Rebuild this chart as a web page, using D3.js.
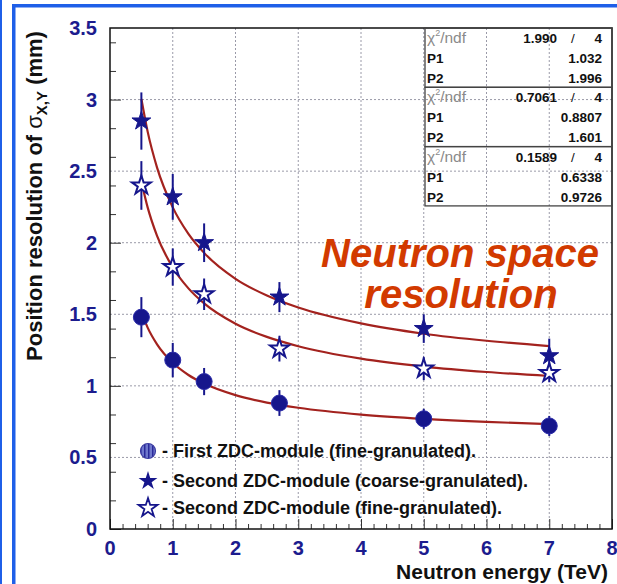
<!DOCTYPE html>
<html><head><meta charset="utf-8">
<script src="https://cdn.jsdelivr.net/npm/d3@7"></script>
<style>body{margin:0;background:#fff}svg{display:block}text{font-family:"Liberation Sans",Arial,Helvetica,sans-serif}</style>
</head><body><svg id="c" width="617" height="584"></svg>
<script>
// ---- data ----
const energies = [0.5, 1, 1.5, 2.7, 5, 7];
const firstFine = [1.48, 1.18, 1.03, 0.88, 0.77, 0.72];
const firstFineErr = [0.14, 0.12, 0.095, 0.09, 0.07, 0.07];
const secondCoarse = [2.85, 2.32, 2.00, 1.62, 1.40, 1.21];
const secondCoarseErr = [0.20, 0.16, 0.135, 0.105, 0.10, 0.12];
const secondFine = [2.40, 1.83, 1.64, 1.26, 1.12, 1.09];
const secondFineErr = [0.17, 0.13, 0.11, 0.09, 0.08, 0.065];
// fit curves
const fitX = [0.5, 0.6, 0.75, 1, 1.25, 1.5, 2, 2.5, 3, 4, 5, 6, 7];
const fitCoarse = [3.005, 2.776, 2.525, 2.247, 2.062, 1.929, 1.748, 1.631, 1.547, 1.436, 1.364, 1.315, 1.278];
const fitSecondFine = [2.429, 2.247, 2.048, 1.827, 1.681, 1.576, 1.434, 1.342, 1.277, 1.190, 1.135, 1.097, 1.069];
const fitFirstFine = [1.515, 1.407, 1.290, 1.161, 1.076, 1.016, 0.935, 0.883, 0.847, 0.799, 0.769, 0.748, 0.733];
const xTicks = [0, 1, 2, 3, 4, 5, 6, 7, 8];
const yTicks = [0, 0.5, 1, 1.5, 2, 2.5, 3, 3.5];
const yTickLabels = ["0", "0.5", "1", "1.5", "2", "2.5", "3", "3.5"];
const statChi2 = ["1.990", "0.7061", "0.1589"];
const statNdf = ["4", "4", "4"];
const statP1 = ["1.032", "0.8807", "0.6338"];
const statP2 = ["1.996", "1.601", "0.9726"];
const legendLabels = ["- First ZDC-module (fine-granulated).", "- Second ZDC-module (coarse-granulated).", "- Second ZDC-module (fine-granulated)."];

// ---- layout ----
const svg = d3.select("#c");
const L = 110, R = 612, T = 28, B = 529;
const x = d3.scaleLinear().domain([0, 8]).range([L, R]);
const y = d3.scaleLinear().domain([0, 3.5]).range([B, T]);
const navy = "#16168c", labBlue = "#1c1c8e", frameBlue = "#1f5fe8", fitRed = "#a3221e";

// page border (slide frame)
svg.append("rect").attr("x", 0).attr("y", 0).attr("width", 2).attr("height", 584).attr("fill", frameBlue);
svg.append("rect").attr("x", 12).attr("y", 4).attr("width", 605).attr("height", 3.5).attr("fill", frameBlue);
svg.append("rect").attr("x", 12).attr("y", 4).attr("width", 3.5).attr("height", 580).attr("fill", frameBlue);

// grid
const g = svg.append("g");
g.selectAll(".gx").data(xTicks.slice(1, -1)).join("line")
  .attr("x1", d => x(d)).attr("x2", d => x(d)).attr("y1", T).attr("y2", B)
  .attr("stroke", "#9a9aa8").attr("stroke-width", 1).attr("stroke-dasharray", "2,2");
g.selectAll(".gy").data(yTicks.slice(1, -1)).join("line")
  .attr("y1", d => y(d)).attr("y2", d => y(d)).attr("x1", L).attr("x2", R)
  .attr("stroke", "#9a9aa8").attr("stroke-width", 1).attr("stroke-dasharray", "2,2");

// axes (ticks inward)
const xAxis = d3.axisTop(x).ticks(32).tickSize(6).tickFormat("");
const xa = svg.append("g").attr("transform", `translate(0,${B})`).call(xAxis);
xa.selectAll(".tick line").attr("stroke", "#333").attr("y2", d => Number.isInteger(d) ? -10 : -5);
xa.select(".domain").remove();
const yAxis = d3.axisRight(y).ticks(14).tickSize(6).tickFormat("");
const ya = svg.append("g").attr("transform", `translate(${L},0)`).call(yAxis);
ya.selectAll(".tick line").attr("stroke", "#333").attr("x2", d => (Math.abs(d * 2 - Math.round(d * 2)) < 1e-6) ? 11 : 6);
ya.select(".domain").remove();

// tick labels
svg.selectAll(".xl").data(xTicks).join("text")
  .attr("x", d => x(d)).attr("y", 555).attr("text-anchor", "middle")
  .attr("font-size", 20).attr("font-weight", "bold").attr("fill", labBlue).text(d => d);
svg.selectAll(".yl").data(yTicks).join("text")
  .attr("x", 97).attr("y", d => y(d) + 7).attr("text-anchor", "end")
  .attr("font-size", 20).attr("font-weight", "bold").attr("fill", labBlue).text((d, i) => yTickLabels[i]);

// axis titles
svg.append("text").attr("x", 608).attr("y", 579).attr("text-anchor", "end")
  .attr("font-size", 21).attr("font-weight", "bold").attr("fill", "#111").text("Neutron energy (TeV)");
const yt = svg.append("text").attr("transform", "translate(42,196) rotate(-90)").attr("text-anchor", "middle")
  .attr("font-size", 22).attr("font-weight", "bold").attr("fill", "#111");
yt.append("tspan").text("Position resolution of ");
yt.append("tspan").attr("font-weight", "normal").text("σ");
yt.append("tspan").attr("font-size", 15).attr("dy", 5).text("X,Y");
yt.append("tspan").attr("dy", -5).text(" (mm)");

// frame
svg.append("rect").attr("x", L).attr("y", T).attr("width", R - L).attr("height", B - T)
  .attr("fill", "none").attr("stroke", "#111").attr("stroke-width", 1.5);

// stats boxes
const bx0 = 425, bh = 59.3;
statChi2.forEach((c, i) => {
  const top = T + i * bh;
  svg.append("rect").attr("x", bx0).attr("y", top).attr("width", R - bx0).attr("height", bh)
    .attr("fill", "none").attr("stroke", "#444").attr("stroke-width", 1.3);
  const t1 = svg.append("text").attr("x", 427).attr("y", top + 15).attr("font-size", 15.5).attr("fill", "#8a8a8a");
  t1.append("tspan").text("χ");
  t1.append("tspan").attr("font-size", 9).attr("dy", -7).text("2");
  t1.append("tspan").attr("dy", 7).text("/ndf");
  svg.append("text").attr("x", 557).attr("y", top + 15).attr("text-anchor", "end").attr("font-size", 13.5).attr("font-weight", "bold").attr("fill", "#111").text(c);
  svg.append("text").attr("x", 573).attr("y", top + 15).attr("text-anchor", "middle").attr("font-size", 13.5).attr("fill", "#111").text("/");
  svg.append("text").attr("x", 602).attr("y", top + 15).attr("text-anchor", "end").attr("font-size", 13.5).attr("font-weight", "bold").attr("fill", "#111").text(statNdf[i]);
  [["P1", statP1[i]], ["P2", statP2[i]]].forEach((p, j) => {
    svg.append("text").attr("x", 427).attr("y", top + 35 + j * 20).attr("font-size", 13.5).attr("font-weight", "bold").attr("fill", "#111").text(p[0]);
    svg.append("text").attr("x", 602).attr("y", top + 35 + j * 20).attr("text-anchor", "end").attr("font-size", 13.5).attr("font-weight", "bold").attr("fill", "#111").text(p[1]);
  });
});

// fit curves
const line = d3.line().x(d => x(d[0])).y(d => y(d[1])).curve(d3.curveMonotoneX);
[fitCoarse, fitSecondFine, fitFirstFine].forEach(f => {
  svg.append("path").attr("d", line(fitX.map((v, i) => [v, f[i]])))
    .attr("fill", "none").attr("stroke", fitRed).attr("stroke-width", 2.2);
});

// red annotation
svg.append("text").attr("x", 460).attr("y", 267).attr("text-anchor", "middle").attr("font-size", 40)
  .attr("font-weight", "bold").attr("font-style", "italic").attr("fill", "#d23a00").text("Neutron space");
svg.append("text").attr("x", 461).attr("y", 308).attr("text-anchor", "middle").attr("font-size", 40)
  .attr("font-weight", "bold").attr("font-style", "italic").attr("fill", "#d23a00").text("resolution");

// error bars + markers
function errBars(vals, errs) {
  svg.append("g").selectAll("line").data(energies).join("line")
    .attr("x1", d => x(d)).attr("x2", d => x(d))
    .attr("y1", (d, i) => y(vals[i] - errs[i])).attr("y2", (d, i) => y(vals[i] + errs[i]))
    .attr("stroke", navy).attr("stroke-width", 2);
}
errBars(firstFine, firstFineErr);
errBars(secondCoarse, secondCoarseErr);
errBars(secondFine, secondFineErr);

const starSym = d3.symbol(d3.symbolStar).size(110);
const starSymOpen = d3.symbol(d3.symbolStar).size(110);
svg.append("g").selectAll("circle").data(energies).join("circle")
  .attr("cx", d => x(d)).attr("cy", (d, i) => y(firstFine[i])).attr("r", 8)
  .attr("fill", navy).attr("stroke", "#2a2aa8").attr("stroke-width", 1);
svg.append("g").selectAll("path").data(energies).join("path")
  .attr("transform", (d, i) => `translate(${x(d)},${y(secondCoarse[i])})`).attr("d", starSym())
  .attr("fill", navy).attr("stroke", navy).attr("stroke-width", 1);
svg.append("g").selectAll("path").data(energies).join("path")
  .attr("transform", (d, i) => `translate(${x(d)},${y(secondFine[i])})`).attr("d", starSymOpen())
  .attr("fill", "#fff").attr("stroke", navy).attr("stroke-width", 2);

// legend
const defs = svg.append("defs");
const pat = defs.append("pattern").attr("id", "stripe").attr("patternUnits", "userSpaceOnUse").attr("width", 4).attr("height", 4);
pat.append("rect").attr("width", 4).attr("height", 4).attr("fill", "#6f78cc");
pat.append("rect").attr("width", 1.5).attr("height", 4).attr("fill", "#2a2a9a");
const legY = [451, 481, 508];
svg.append("circle").attr("cx", 148).attr("cy", legY[0]).attr("r", 7.5).attr("fill", "url(#stripe)").attr("stroke", "#3a3aa0").attr("stroke-width", 1.2);
svg.append("path").attr("transform", `translate(148,${legY[1]})`).attr("d", starSym()).attr("fill", navy);
svg.append("path").attr("transform", `translate(148,${legY[2]})`).attr("d", starSymOpen()).attr("fill", "#fff").attr("stroke", navy).attr("stroke-width", 1.8);
svg.selectAll(".lg").data(legendLabels).join("text")
  .attr("x", 162).attr("y", (d, i) => legY[i] + 6).attr("font-size", 18).attr("font-weight", "bold").attr("fill", "#111").text(d => d);
</script></body></html>
